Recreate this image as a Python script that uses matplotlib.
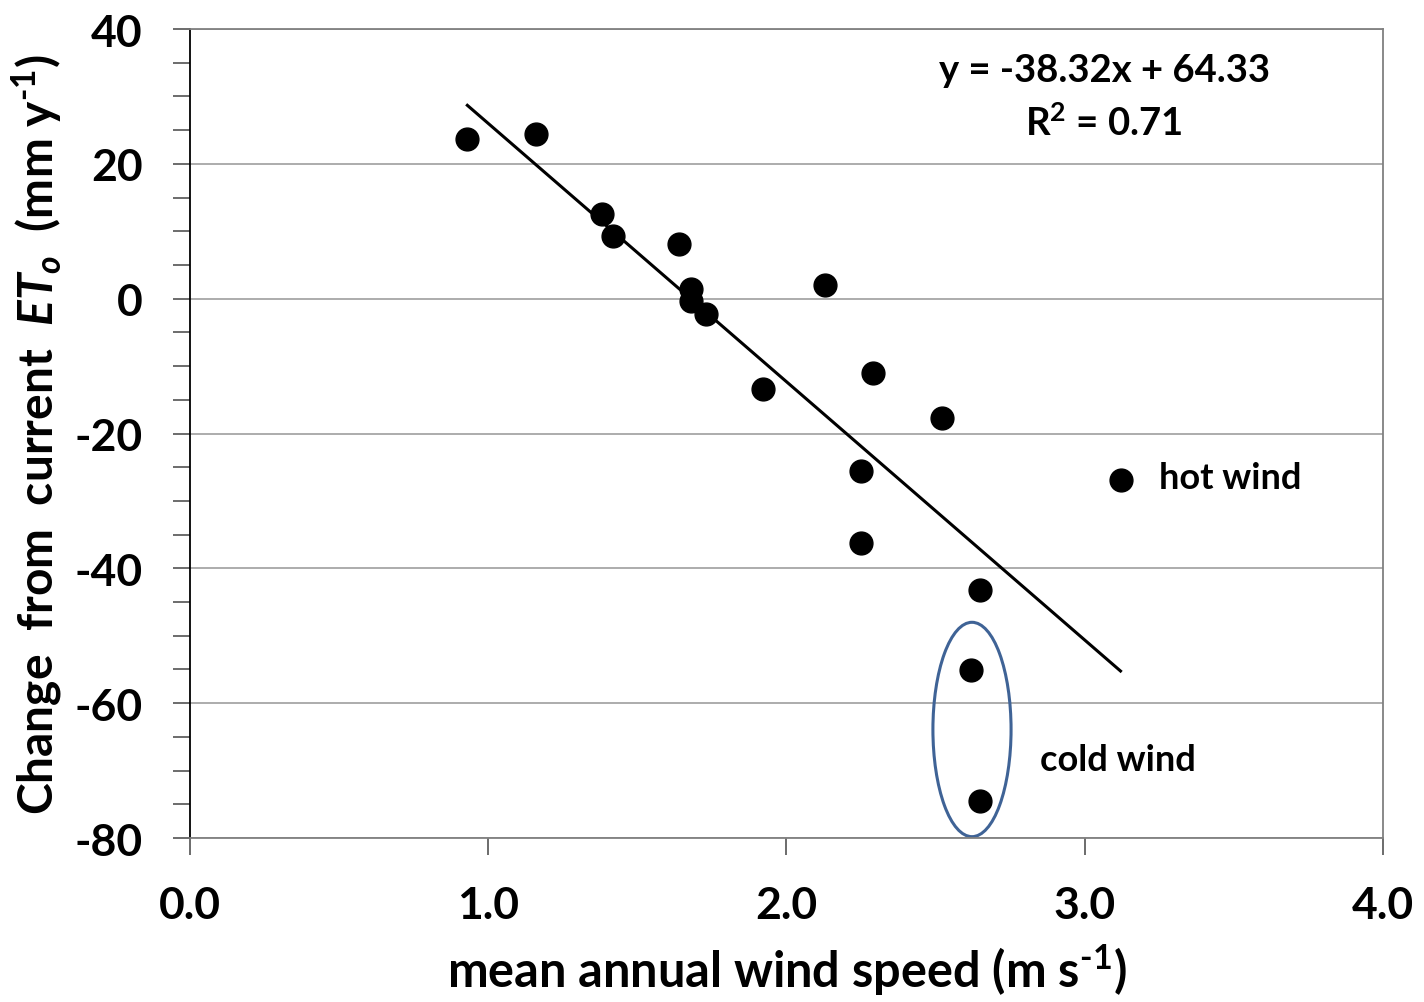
import matplotlib
matplotlib.use("Agg")
import matplotlib.pyplot as plt
from matplotlib.patches import Ellipse
from matplotlib.ticker import MultipleLocator
import numpy as np

# values
wind_speed = [0.93, 1.16, 1.38, 1.42, 1.64, 1.68, 1.68, 1.73, 2.13, 1.92,
              2.29, 2.52, 2.25, 2.25, 3.12, 2.65, 2.62, 2.65]
eto_change = [23.7, 24.4, 12.6, 9.3, 8.1, 1.4, -0.4, -2.3, 2.0, -13.4,
              -11.0, -17.7, -25.6, -36.3, -26.9, -43.2, -55.1, -74.5]
slope = -38.32
intercept = 64.33
r_squared = 0.71
fit_range = [0.93, 3.12]

plt.rcParams["font.family"] = ["Lato", "DejaVu Sans"]
plt.rcParams["font.weight"] = "bold"
plt.rcParams["axes.labelweight"] = "bold"
plt.rcParams["axes.unicode_minus"] = False
plt.rcParams["mathtext.fontset"] = "custom"
plt.rcParams["mathtext.rm"] = "Lato:bold"
plt.rcParams["mathtext.it"] = "Lato:italic:bold"
plt.rcParams["mathtext.bf"] = "Lato:bold"

fig = plt.figure(figsize=(14.24, 10.03), dpi=100)
ax = fig.add_axes([0.1334, 0.1635, 0.8378, 0.8065])

ax.set_xlim(0, 4)
ax.set_ylim(-80, 40)
ax.yaxis.set_major_locator(MultipleLocator(20))
ax.yaxis.set_minor_locator(MultipleLocator(5))
ax.xaxis.set_major_locator(MultipleLocator(1))
ax.set_xticklabels([f"{v:.1f}" for v in ax.get_xticks()])

ax.grid(axis="y", which="major", color="#a6a6a6", linewidth=1.3, zorder=0)
ax.set_axisbelow(True)

for side in ["top", "right", "bottom"]:
    ax.spines[side].set_color("#808080")
    ax.spines[side].set_linewidth(1.3)
ax.spines["left"].set_color("black")
ax.spines["left"].set_linewidth(1.3)

ax.tick_params(axis="y", which="both", direction="out", length=12, width=1.3,
               color="#606060", labelsize=32, pad=22)
ax.tick_params(axis="x", which="major", direction="out", length=12, width=1.3,
               color="#606060", labelsize=32, pad=22)

xf = np.array(fit_range)
ax.plot(xf, slope * xf + intercept, color="black", linewidth=2.2, zorder=2)
ax.scatter(wind_speed, eto_change, s=270, color="black", zorder=3)

ax.add_patch(Ellipse((2.622, -63.9), 0.262, 31.8, fill=False,
                     edgecolor="#3f6396", linewidth=2.2, zorder=2))

ax.text(3.065, 34.0, f"y = {slope:.2f}x + {intercept:.2f}", fontsize=27.5,
        ha="center", va="center")
ax.text(3.065, 26.2, r"R$^2$ = " + f"{r_squared:.2f}", fontsize=27.5,
        ha="center", va="center")
ax.text(3.25, -26.5, "hot wind", fontsize=26, ha="left", va="center")
ax.text(2.85, -68.3, "cold wind", fontsize=26, ha="left", va="center")

ax.set_xlabel(r"mean annual wind speed (m s$^{\text{-1}}$)", fontsize=35, labelpad=12)
ax.set_ylabel(r"Change  from  current  $ET_o$  (mm y$^{\text{-1}}$)", fontsize=34.5,
              labelpad=8)

fig.savefig("out.png", dpi=100)
